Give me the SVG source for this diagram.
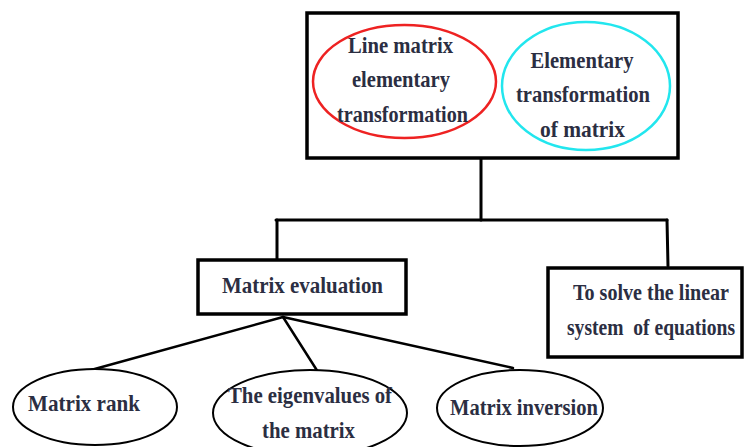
<svg xmlns="http://www.w3.org/2000/svg" width="744" height="447" viewBox="0 0 744 447" font-family="Liberation Serif, Times New Roman, serif" font-weight="bold" font-size="23">
  <style>
    .box { fill: #ffffff; stroke: #000000; stroke-width: 3.5; }
    .oval { fill: #ffffff; stroke: #000000; stroke-width: 2; }
    .wire { fill: none; stroke: #000000; stroke-width: 3; stroke-linecap: round; }
    .thin { fill: none; stroke: #000000; stroke-width: 2.5; stroke-linecap: round; }
    .lbl { fill: #2b2e42; text-anchor: middle; }
  </style>
  <rect width="744" height="447" fill="#ffffff"/>

  <!-- connectors -->
  <g id="connectors">
    <line class="wire" x1="481" y1="158" x2="481" y2="220"/>
    <line class="wire" x1="276" y1="220" x2="667" y2="220"/>
    <line class="wire" x1="277" y1="220" x2="277" y2="260"/>
    <line class="wire" x1="667" y1="220" x2="668" y2="266"/>
    <line class="thin" x1="283" y1="317" x2="91" y2="370"/>
    <line class="thin" x1="283" y1="317" x2="318" y2="372"/>
    <line class="thin" x1="283" y1="317" x2="513" y2="368"/>
  </g>

  <!-- top container with two elementary-transformation ovals -->
  <g id="top">
    <rect class="box" x="307" y="13" width="371" height="145"/>
    <ellipse cx="404.5" cy="81.5" rx="91.5" ry="56.5" fill="none" stroke="#ee2222" stroke-width="2.5"/>
    <ellipse cx="586" cy="86" rx="84" ry="64" fill="none" stroke="#22e6ee" stroke-width="2.5"/>
  </g>
  <g id="row-transform" class="lbl">
    <text x="400.5" y="53" textLength="105" lengthAdjust="spacingAndGlyphs">Line matrix</text>
    <text x="401" y="87" textLength="98" lengthAdjust="spacingAndGlyphs">elementary</text>
    <text x="402.5" y="122" textLength="131" lengthAdjust="spacingAndGlyphs">transformation</text>
  </g>
  <g id="elem-transform" class="lbl">
    <text x="582" y="68" textLength="103" lengthAdjust="spacingAndGlyphs">Elementary</text>
    <text x="583" y="102" textLength="134" lengthAdjust="spacingAndGlyphs">transformation</text>
    <text x="582.5" y="137" textLength="85" lengthAdjust="spacingAndGlyphs">of matrix</text>
  </g>

  <g id="evaluation">
    <rect class="box" x="198" y="260" width="208" height="54"/>
    <text class="lbl" x="302.5" y="293" textLength="161" lengthAdjust="spacingAndGlyphs">Matrix evaluation</text>
  </g>

  <g id="linear-system">
    <rect class="box" x="548" y="268" width="194" height="89"/>
    <text class="lbl" x="651" y="300" textLength="156" lengthAdjust="spacingAndGlyphs">To solve the linear</text>
    <text class="lbl" x="651" y="335" textLength="168" lengthAdjust="spacingAndGlyphs" xml:space="preserve">system  of equations</text>
  </g>

  <g id="rank">
    <ellipse class="oval" cx="95" cy="407" rx="82" ry="38"/>
    <text class="lbl" x="84" y="411" textLength="112" lengthAdjust="spacingAndGlyphs">Matrix rank</text>
  </g>

  <g id="eigenvalues">
    <ellipse class="oval" cx="310" cy="413" rx="97" ry="43"/>
    <text class="lbl" x="310" y="403" textLength="164" lengthAdjust="spacingAndGlyphs">The eigenvalues of</text>
    <text class="lbl" x="308.5" y="438" textLength="93" lengthAdjust="spacingAndGlyphs">the matrix</text>
  </g>

  <g id="inversion">
    <ellipse class="oval" cx="520" cy="408" rx="83" ry="38"/>
    <text class="lbl" x="524" y="415" textLength="148" lengthAdjust="spacingAndGlyphs">Matrix inversion</text>
  </g>
</svg>
